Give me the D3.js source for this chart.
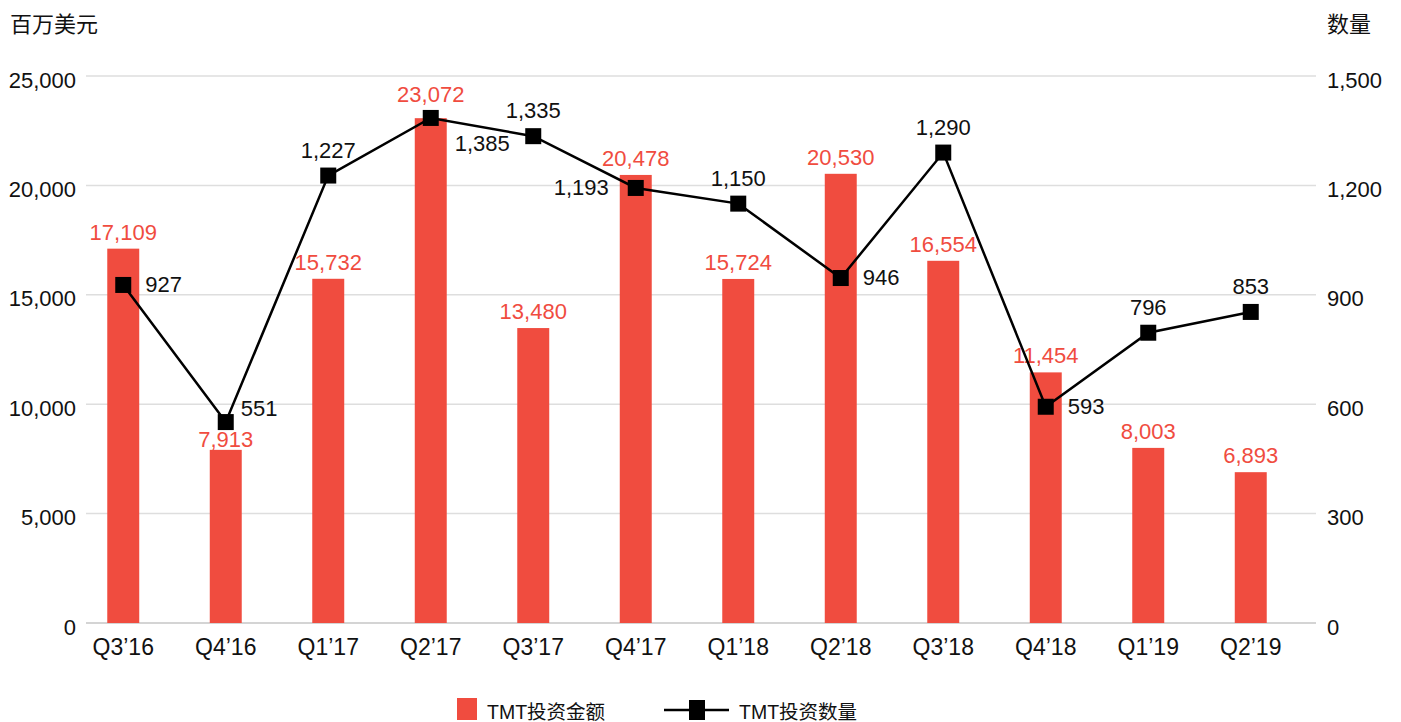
<!DOCTYPE html>
<html>
<head>
<meta charset="utf-8">
<script src="https://cdn.jsdelivr.net/npm/d3@7"></script>
<style>
  body { margin: 0; background: #fff; }
  text { font-family: "Liberation Sans", Arial, "Noto Sans CJK SC", sans-serif; }
</style>
</head>
<body>
<script>
var quarters = ["Q3\u201916", "Q4\u201916", "Q1\u201917", "Q2\u201917", "Q3\u201917", "Q4\u201917",
                "Q1\u201918", "Q2\u201918", "Q3\u201918", "Q4\u201918", "Q1\u201919", "Q2\u201919"];
var amounts = [17109, 7913, 15732, 23072, 13480, 20478, 15724, 20530, 16554, 11454, 8003, 6893];
var counts = [927, 551, 1227, 1385, 1335, 1193, 1150, 946, 1290, 593, 796, 853];
// where each count label sits around its marker
var countLabelPos = ["right", "rightAbove", "above", "belowRight", "above", "left",
                     "above", "right", "above", "right", "above", "above"];
var leftTicks = [0, 5000, 10000, 15000, 20000, 25000];
var rightTicks = [0, 300, 600, 900, 1200, 1500];
var leftTitle = "百万美元";
var rightTitle = "数量";
var legendNames = ["TMT投资金额", "TMT投资数量"];

var red = "#f04c3f";
var fontSize = 22;

var plot = { left: 86, right: 1316, top: 76, bottom: 623 };

var svg = d3.select("body").append("svg")
  .attr("width", 1401)
  .attr("height", 722);

var x = d3.scaleBand()
  .domain(quarters)
  .range([72, 1302])
  .paddingInner(0.688)
  .paddingOuter(0.344);

var yL = d3.scaleLinear().domain([0, 25000]).range([plot.bottom, plot.top]);
var yR = d3.scaleLinear().domain([0, 1500]).range([plot.bottom, plot.top]);

function cx(d) {
  return x(d) + x.bandwidth() / 2;
}

// gridlines
svg.append("g")
  .selectAll("line")
  .data(leftTicks)
  .enter()
  .append("line")
  .attr("x1", plot.left)
  .attr("x2", plot.right)
  .attr("y1", function(d) { return yL(d); })
  .attr("y2", function(d) { return yL(d); })
  .attr("stroke", function(d) { return d === 0 ? "#d4d4d4" : "#dedede"; })
  .attr("stroke-width", function(d) { return d === 0 ? 2 : 1.5; });

// axes
var fmt = d3.format(",");
var leftAxis = svg.append("g")
  .attr("transform", "translate(" + plot.left + ",0)")
  .call(d3.axisLeft(yL).tickValues(leftTicks).tickFormat(fmt).tickSize(0).tickPadding(10));

var rightAxis = svg.append("g")
  .attr("transform", "translate(" + plot.right + ",0)")
  .call(d3.axisRight(yR).tickValues(rightTicks).tickFormat(fmt).tickSize(0).tickPadding(11));

var bottomAxis = svg.append("g")
  .attr("transform", "translate(0," + plot.bottom + ")")
  .call(d3.axisBottom(x).tickSize(0).tickPadding(16));

[leftAxis, rightAxis, bottomAxis].forEach(function(g) {
  g.select(".domain").remove();
  g.attr("font-family", null);
  g.selectAll("text")
    .attr("font-size", fontSize + "px")
    .attr("fill", "#111");
});
leftAxis.selectAll("text").attr("dy", "0.5em");
rightAxis.selectAll("text").attr("dy", "0.5em");
bottomAxis.selectAll("text").attr("font-size", "23px");

// axis titles
svg.append("text")
  .attr("x", 10)
  .attr("y", 32)
  .attr("font-size", "22px")
  .attr("fill", "#111")
  .text(leftTitle);

svg.append("text")
  .attr("x", 1327)
  .attr("y", 32)
  .attr("font-size", "22px")
  .attr("fill", "#111")
  .text(rightTitle);

// bars
svg.append("g")
  .selectAll("rect")
  .data(quarters)
  .enter()
  .append("rect")
  .attr("x", function(d) { return x(d); })
  .attr("y", function(d, i) { return yL(amounts[i]); })
  .attr("width", x.bandwidth())
  .attr("height", function(d, i) { return plot.bottom - yL(amounts[i]); })
  .attr("fill", red);

// a couple of bar labels get moved so the line markers don't cover them
var labelLift = { 1: 3, 3: 16 };
svg.append("g")
  .selectAll("text")
  .data(quarters)
  .enter()
  .append("text")
  .attr("x", function(d) { return cx(d); })
  .attr("y", function(d, i) {
    var lift = labelLift[i] !== undefined ? labelLift[i] : 9;
    return yL(amounts[i]) - lift;
  })
  .attr("text-anchor", "middle")
  .attr("font-size", fontSize + "px")
  .attr("fill", red)
  .text(function(d, i) { return fmt(amounts[i]); });

// line
var line = d3.line()
  .x(function(d, i) { return cx(quarters[i]); })
  .y(function(d) { return yR(d); });

svg.append("path")
  .datum(counts)
  .attr("d", line)
  .attr("fill", "none")
  .attr("stroke", "#000")
  .attr("stroke-width", 2.5);

svg.append("g")
  .selectAll("rect")
  .data(counts)
  .enter()
  .append("rect")
  .attr("x", function(d, i) { return cx(quarters[i]) - 8; })
  .attr("y", function(d) { return yR(d) - 8; })
  .attr("width", 16)
  .attr("height", 16)
  .attr("fill", "#000");

var offsets = {
  right: { dx: 22, dy: 7, anchor: "start" },
  rightAbove: { dx: 15, dy: -6, anchor: "start" },
  left: { dx: -27, dy: 7, anchor: "end" },
  above: { dx: 0, dy: -18, anchor: "middle" },
  belowRight: { dx: 24, dy: 33, anchor: "start" }
};

svg.append("g")
  .selectAll("text")
  .data(counts)
  .enter()
  .append("text")
  .attr("x", function(d, i) { return cx(quarters[i]) + offsets[countLabelPos[i]].dx; })
  .attr("y", function(d, i) { return yR(d) + offsets[countLabelPos[i]].dy; })
  .attr("text-anchor", function(d, i) { return offsets[countLabelPos[i]].anchor; })
  .attr("font-size", fontSize + "px")
  .attr("fill", "#111")
  .text(function(d) { return fmt(d); });

// legend
var legend = svg.append("g");
legend.append("rect")
  .attr("x", 457)
  .attr("y", 698)
  .attr("width", 20)
  .attr("height", 22)
  .attr("fill", red);
legend.append("text")
  .attr("x", 487)
  .attr("y", 719)
  .attr("font-size", "19.5px")
  .attr("fill", "#111")
  .text(legendNames[0]);

legend.append("line")
  .attr("x1", 664)
  .attr("x2", 729)
  .attr("y1", 710)
  .attr("y2", 710)
  .attr("stroke", "#000")
  .attr("stroke-width", 2.5);
legend.append("rect")
  .attr("x", 689)
  .attr("y", 700)
  .attr("width", 16)
  .attr("height", 20)
  .attr("fill", "#000");
legend.append("text")
  .attr("x", 739)
  .attr("y", 719)
  .attr("font-size", "19.5px")
  .attr("fill", "#111")
  .text(legendNames[1]);
</script>
</body>
</html>
